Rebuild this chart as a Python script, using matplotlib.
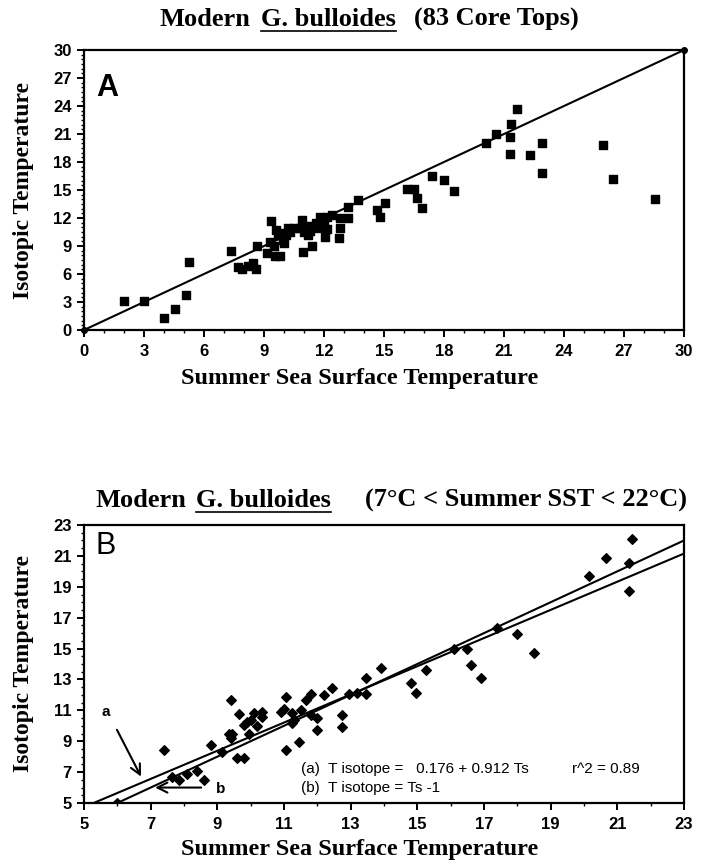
import matplotlib
matplotlib.use("Agg")
import matplotlib.pyplot as plt
from matplotlib.lines import Line2D
import numpy as np

# panel A: 83 core tops (summer SST vs isotopic temperature)
sst_a = [2.0, 3.0, 4.0, 4.55, 5.1, 5.25,
         7.35, 7.7, 7.9, 8.2, 8.45, 8.6,
         8.65, 9.15, 9.55, 9.8, 9.3, 9.35, 9.6, 9.7, 9.5, 9.95, 9.95, 10.2, 10.1, 10.3, 10.5, 10.0,
         10.9, 10.8, 11.05, 11.2, 10.95, 11.4, 11.45, 11.8, 11.6, 11.95, 12.05, 12.15, 12.4, 12.15,
         11.3, 11.0, 11.7, 12.0,
         12.8, 13.2, 13.2, 13.7, 12.8, 12.75,
         14.65, 14.8, 15.05, 16.15, 16.5, 16.65, 16.9, 17.4, 18.0, 18.5,
         20.1, 20.6, 21.35, 21.65, 21.3, 21.3, 22.3, 22.9, 22.9, 25.95, 26.45, 28.55]
iso_a = [3.1, 3.1, 1.3, 2.25, 3.7, 7.3,
         8.5, 6.7, 6.55, 6.9, 7.2, 6.5,
         9.0, 8.2, 7.95, 7.95, 9.45, 11.7, 10.7, 10.2, 9.0, 10.4, 9.6, 10.9, 10.2, 10.5, 10.9, 9.3,
         11.8, 10.9, 11.1, 10.2, 8.4, 8.95, 11.1, 12.15, 11.5, 11.1, 10.0, 12.15, 12.35, 10.8,
         10.6, 10.5, 10.9, 11.6,
         12.05, 12.05, 13.2, 13.95, 10.9, 9.85,
         12.85, 12.15, 13.6, 15.15, 15.15, 14.1, 13.1, 16.5, 16.1, 14.85,
         20.0, 21.0, 22.1, 23.7, 20.7, 18.9, 18.7, 20.0, 16.8, 19.8, 16.2, 14.0]

# panel B: subset 7C < SST < 22C
sst_b = [6.0, 7.4, 7.65, 7.85, 8.1, 8.4, 8.6, 8.8,
         9.15, 9.4, 9.35, 9.45, 9.4, 9.6, 9.8, 9.65, 9.8, 9.9, 10.0, 9.95, 10.1, 10.2, 10.35, 10.35,
         10.9, 11.0, 11.05, 11.05, 11.25, 11.3, 11.25, 11.45, 11.5, 11.65, 11.8, 11.8, 12.0, 12.0, 12.2, 12.45,
         12.75, 12.75, 12.95, 13.2, 13.45, 13.45, 13.9,
         14.8, 14.95, 15.25, 16.1, 16.5, 16.6, 16.9, 17.4, 18.0, 18.5,
         20.15, 20.65, 21.35, 21.45, 21.35]
iso_b = [5.0, 8.4, 6.7, 6.5, 6.9, 7.05, 6.5, 8.75,
         8.3, 11.7, 9.5, 9.5, 9.2, 7.9, 7.9, 10.75, 10.05, 10.25, 10.4, 9.5, 10.85, 10.0, 10.9, 10.55,
         10.9, 11.1, 11.85, 8.4, 10.8, 10.4, 10.2, 8.95, 11.0, 11.7, 12.05, 10.7, 10.5, 9.75, 12.0, 12.45,
         10.7, 9.95, 12.05, 12.1, 13.1, 12.05, 13.75,
         12.75, 12.15, 13.6, 15.0, 15.0, 13.95, 13.1, 16.3, 15.95, 14.7,
         19.7, 20.85, 20.55, 22.1, 18.75]

# regression (a) and offset line (b)
fit_a = (0.176, 0.912)
fit_b = (-1.0, 1.0)

ticks_a = np.arange(0, 31, 3)
ticks_b = np.arange(5, 24, 2)

SERIF = "Liberation Serif"
SANS = "Liberation Sans"

W, H = 703, 866
fig = plt.figure(figsize=(W / 100, H / 100), dpi=100)
fig.patch.set_facecolor("white")

axA = fig.add_axes([84 / W, 1 - 330 / H, 600 / W, 280 / H])
axB = fig.add_axes([84 / W, 1 - 803 / H, 600 / W, 278 / H])


def style_axes(ax, ticks, xminor, yminor, xlab_y):
    for sp in ax.spines.values():
        sp.set_linewidth(1.6)
    ax.set_xticks(ticks)
    ax.set_yticks(ticks)
    ax.set_xticks(np.arange(ticks[0], ticks[-1] + 0.01, xminor), minor=True)
    ax.set_yticks(np.arange(ticks[0], ticks[-1] + 0.01, yminor), minor=True)
    ax.tick_params(which="major", direction="out", length=5, width=1.4, pad=4)
    ax.tick_params(which="minor", direction="out", length=2.5, width=1.0)
    ax.tick_params(axis="x", pad=5)
    for lab in ax.get_xticklabels() + ax.get_yticklabels():
        lab.set_fontfamily(SANS)
        lab.set_fontweight("bold")
        lab.set_fontsize(12)
    ax.set_xlabel("Summer Sea Surface Temperature", family=SERIF,
                  fontweight="bold", fontsize=17.5)
    ax.set_ylabel("Isotopic Temperature", family=SERIF,
                  fontweight="bold", fontsize=17)
    ax.xaxis.set_label_coords(0.46, xlab_y)
    ax.yaxis.set_label_coords(-0.083, 0.5)


# ---- panel A
axA.scatter(sst_a, iso_a, marker="s", s=36, color="black", zorder=3)
axA.plot([0, 30], [0, 30], color="black", lw=1.5, marker="o", ms=4,
         clip_on=False, zorder=4)
axA.set_xlim(0, 30)
axA.set_ylim(0, 30)
style_axes(axA, ticks_a, 1, 0.5, -0.135)
axA.text(0.6, 27.5, "A", family=SANS, fontweight="bold", fontsize=22,
         ha="left", va="top")

# ---- panel B
axB.scatter(sst_b, iso_b, marker="D", s=24, color="black", zorder=3)
xx = np.array([5, 23])
axB.plot(xx, fit_a[0] + fit_a[1] * xx, color="black", lw=1.5)
axB.plot(xx, fit_b[0] + fit_b[1] * xx, color="black", lw=1.5)
axB.set_xlim(5, 23)
axB.set_ylim(5, 23)
style_axes(axB, ticks_b, 1, 0.5, -0.13)
axB.text(5.35, 22.6, "B", family=SANS, fontsize=22, ha="left", va="top")

axB.annotate("", xy=(6.75, 6.55), xytext=(5.95, 9.9),
             arrowprops=dict(arrowstyle="->", lw=1.5, color="black",
                             mutation_scale=18))
axB.text(5.65, 10.9, "a", family=SANS, fontweight="bold", fontsize=11,
         ha="center", va="center")
axB.annotate("", xy=(7.05, 6.0), xytext=(8.6, 6.0),
             arrowprops=dict(arrowstyle="->", lw=1.5, color="black",
                             mutation_scale=18))
axB.text(9.1, 5.9, "b", family=SANS, fontweight="bold", fontsize=11,
         ha="center", va="center")

axB.text(11.5, 7.2, "(a)  T isotope =   0.176 + 0.912 Ts", family=SANS,
         fontsize=11, va="center")
axB.text(19.65, 7.2, "r^2 = 0.89", family=SANS, fontsize=11, va="center")
axB.text(11.5, 6.0, "(b)  T isotope = Ts -1", family=SANS,
         fontsize=11, va="center")


# ---- titles with underlined species name
def title_row(y_px, parts, cx_px, fs=19):
    renderer = fig.canvas.get_renderer()
    widths = []
    for s, _, _ in parts:
        t = fig.text(0, 0, s, family=SERIF, fontweight="bold", fontsize=fs)
        widths.append(t.get_window_extent(renderer).width)
        t.remove()
    gaps = [g for _, _, g in parts]
    total = sum(widths) + sum(gaps[:-1])
    x = cx_px - total / 2
    yb = 1 - y_px / H
    for (s, ul, g), w in zip(parts, widths):
        fig.text(x / W, yb, s, family=SERIF, fontweight="bold", fontsize=fs,
                 ha="left", va="baseline")
        if ul:
            fig.add_artist(Line2D([x / W, (x + w) / W], [yb - 5 / H, yb - 5 / H],
                                  transform=fig.transFigure, color="black", lw=1.2))
        x += w + g


title_row(26, [("Modern", False, 10), ("G. bulloides", True, 18),
               ("(83 Core Tops)", False, 0)], 369)
title_row(507, [("Modern", False, 10), ("G. bulloides", True, 34),
                ("(7°C < Summer SST < 22°C)", False, 0)], 391)

fig.savefig("out.png", dpi=100)
print("Done")
